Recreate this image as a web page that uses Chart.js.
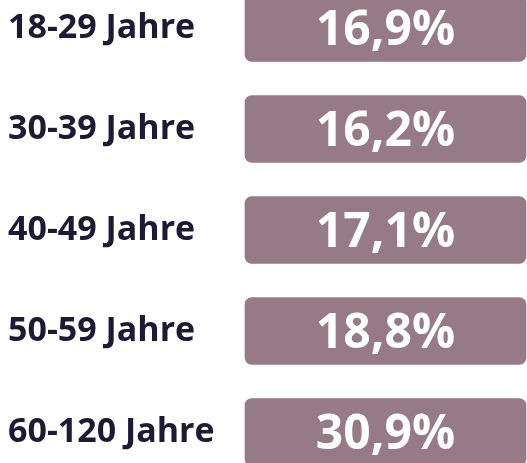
<!DOCTYPE html>
<html>
<head>
<meta charset="utf-8">
<script src="https://cdn.jsdelivr.net/npm/chart.js@4.4.0/dist/chart.umd.min.js"></script>
<style>
  html, body { margin: 0; padding: 0; background: #ffffff; }
  #wrap { width: 527px; height: 463px; }
</style>
</head>
<body>
<div id="wrap"><canvas id="ageChart" width="527" height="463"></canvas></div>
<script>
// age groups and their shares (in percent)
const ageGroups = ['18-29 Jahre', '30-39 Jahre', '40-49 Jahre', '50-59 Jahre', '60-120 Jahre'];
const shares = [16.9, 16.2, 17.1, 18.8, 30.9];
// every box in the graphic has the same length
const boxLength = [100, 100, 100, 100, 100];

const barColor = '#967b87';
const labelColor = '#1e1a34';

// writes the share value in the middle of each box
const shareLabels = {
    id: 'shareLabels',
    afterDatasetsDraw(chart) {
        const ctx = chart.ctx;
        const meta = chart.getDatasetMeta(0);
        ctx.save();
        ctx.fillStyle = '#ffffff';
        ctx.font = 'bold 48px "Open Sans"';
        ctx.textAlign = 'center';
        ctx.textBaseline = 'alphabetic';
        meta.data.forEach(function(bar, i) {
            const cx = (bar.base + bar.x) / 2;
            const text = shares[i].toFixed(1).replace('.', ',') + '%';
            ctx.fillText(text, cx, bar.y + 17);
        });
        ctx.restore();
    }
};

const ctx = document.getElementById('ageChart').getContext('2d');
new Chart(ctx, {
    type: 'bar',
    data: {
        labels: ageGroups,
        datasets: [{
            data: boxLength,
            backgroundColor: barColor,
            borderRadius: 7,
            borderSkipped: false,
            barThickness: 67,
            clip: false
        }]
    },
    options: {
        indexAxis: 'y',
        responsive: false,
        animation: false,
        layout: {
            padding: { left: 8, right: 1, top: 28, bottom: 31 }
        },
        plugins: {
            legend: { display: false },
            tooltip: { enabled: false }
        },
        scales: {
            x: {
                display: false,
                min: 0,
                max: 100
            },
            y: {
                offset: false,
                grid: { display: false },
                border: { display: false },
                ticks: {
                    crossAlign: 'far',
                    color: labelColor,
                    font: { family: '"Open Sans"', size: 34, weight: 'bold' }
                },
                afterFit: function(scale) {
                    scale.width = 237;
                }
            }
        }
    },
    plugins: [shareLabels]
});
</script>
</body>
</html>
